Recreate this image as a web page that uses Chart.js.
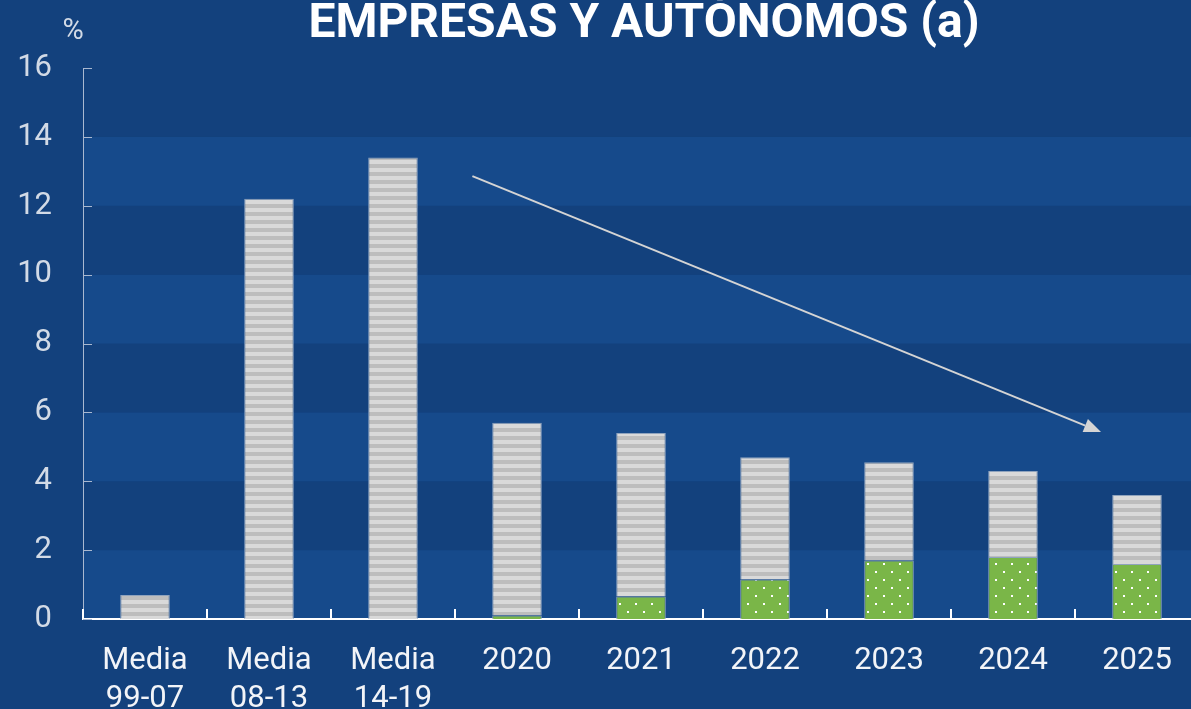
<!DOCTYPE html>
<html>
<head>
<meta charset="utf-8">
<script src="https://cdn.jsdelivr.net/npm/chart.js@4"></script>
<style>
  html, body { margin: 0; padding: 0; background: #13417d; overflow: hidden; }
  #wrap { width: 1200px; height: 709px; position: relative; }
</style>
</head>
<body>
<div id="wrap"><canvas id="chart" width="1200" height="709"></canvas></div>
<script>
// data
const categories = [['Media', '99-07'], ['Media', '08-13'], ['Media', '14-19'], '2020', '2021', '2022', '2023', '2024', '2025'];
const greenValues = [0, 0, 0, 0.1, 0.65, 1.15, 1.7, 1.8, 1.6];
const greyValues = [0.7, 12.2, 13.4, 5.6, 4.75, 3.55, 2.85, 2.5, 2.0];
const yTicks = [0, 2, 4, 6, 8, 10, 12, 14, 16];
const arrowFrom = [2.64, 12.86];   // [category index, value]
const arrowTo = [7.71, 5.43];
const titleText = 'EMPRESAS Y AUTÓNOMOS (a)';

const BG_DARK = '#13417d';
const BG_LIGHT = '#164a8b';
const FONT = 'Roboto, "Noto Sans", sans-serif';

// fill patterns
function stripePattern() {
    const c = document.createElement('canvas');
    c.width = 8; c.height = 8;
    const g = c.getContext('2d');
    g.fillStyle = '#d9d9d9'; g.fillRect(0, 0, 8, 4);
    g.fillStyle = '#bdbdbd'; g.fillRect(0, 4, 8, 4);
    return g.createPattern(c, 'repeat');
}
function dotPattern() {
    const c = document.createElement('canvas');
    c.width = 16; c.height = 16;
    const g = c.getContext('2d');
    g.fillStyle = '#7ab648'; g.fillRect(0, 0, 16, 16);
    g.fillStyle = '#ffffff';
    g.fillRect(3, 3, 2, 2);
    g.fillRect(11, 11, 2, 2);
    return g.createPattern(c, 'repeat');
}

const decor = {
    id: 'decor',
    beforeDraw(chart) {
        const { ctx, chartArea: a, scales: { y } } = chart;
        ctx.save();
        ctx.fillStyle = BG_DARK;
        ctx.fillRect(0, 0, chart.width, chart.height);
        // alternating bands every 2 units
        for (let i = 0; i < yTicks.length - 1; i++) {
            const top = y.getPixelForValue(yTicks[i + 1]);
            const bot = y.getPixelForValue(yTicks[i]);
            ctx.fillStyle = i % 2 === 0 ? BG_LIGHT : BG_DARK;
            ctx.fillRect(a.left, top, a.right - a.left, bot - top);
        }
        ctx.restore();
    },
    afterDraw(chart) {
        const { ctx, chartArea: a, scales: { x, y } } = chart;
        ctx.save();
        // inner tick marks on y axis
        ctx.strokeStyle = '#a9b8d0';
        ctx.lineWidth = 1;
        yTicks.forEach(v => {
            const py = Math.round(y.getPixelForValue(v)) + 0.5;
            ctx.beginPath(); ctx.moveTo(a.left, py); ctx.lineTo(a.left + 9, py); ctx.stroke();
        });
        // category separators on x axis
        ctx.strokeStyle = '#ffffff';
        ctx.lineWidth = 2;
        for (let i = 0; i <= categories.length; i++) {
            const px = Math.round(x.getPixelForValue(i - 0.5));
            ctx.beginPath(); ctx.moveTo(px, a.bottom); ctx.lineTo(px, a.bottom - 10); ctx.stroke();
        }
        // arrow
        const x1 = x.getPixelForValue(arrowFrom[0]), y1 = y.getPixelForValue(arrowFrom[1]);
        const x2 = x.getPixelForValue(arrowTo[0]), y2 = y.getPixelForValue(arrowTo[1]);
        const ang = Math.atan2(y2 - y1, x2 - x1);
        const head = 17;
        ctx.strokeStyle = '#d4d4d4';
        ctx.fillStyle = '#d4d4d4';
        ctx.lineWidth = 2;
        ctx.beginPath();
        ctx.moveTo(x1, y1);
        ctx.lineTo(x2 - head * Math.cos(ang), y2 - head * Math.sin(ang));
        ctx.stroke();
        ctx.beginPath();
        ctx.moveTo(x2, y2);
        ctx.lineTo(x2 - head * Math.cos(ang) + 7 * Math.sin(ang), y2 - head * Math.sin(ang) - 7 * Math.cos(ang));
        ctx.lineTo(x2 - head * Math.cos(ang) - 7 * Math.sin(ang), y2 - head * Math.sin(ang) + 7 * Math.cos(ang));
        ctx.closePath();
        ctx.fill();
        // title and unit
        ctx.fillStyle = '#ffffff';
        ctx.font = 'bold 48px ' + FONT;
        ctx.textAlign = 'center';
        ctx.textBaseline = 'alphabetic';
        ctx.fillText(titleText, 644, 37);
        ctx.fillStyle = '#d2dae6';
        ctx.font = '29px ' + FONT;
        ctx.fillText('%', 73, 39);
        ctx.restore();
    }
};

const ctx = document.getElementById('chart').getContext('2d');
const chart = new Chart(ctx, {
    type: 'bar',
    data: {
        labels: categories,
        datasets: [{
            label: 'green',
            data: greenValues,
            backgroundColor: dotPattern(),
            borderColor: '#8fa3bd',
            borderWidth: 1,
            borderSkipped: 'bottom'
        }, {
            label: 'grey',
            data: greyValues,
            backgroundColor: stripePattern(),
            borderColor: '#8fa3bd',
            borderWidth: 1,
            borderSkipped: 'bottom'
        }]
    },
    options: {
        responsive: false,
        animation: false,
        layout: { padding: { top: 68, right: 1, left: 0, bottom: 0 } },
        plugins: {
            legend: { display: false },
            tooltip: { enabled: false }
        },
        datasets: { bar: { barPercentage: 0.4, categoryPercentage: 1 } },
        scales: {
            x: {
                stacked: true,
                grid: { display: false, drawTicks: false },
                border: { display: true, color: '#ffffff', width: 2 },
                ticks: { color: '#f2f4f8', font: { family: FONT, size: 31, lineHeight: 1.2 }, padding: 24, maxRotation: 0, autoSkip: false },
                afterFit: s => { s.height = 90; }
            },
            y: {
                stacked: true,
                min: 0,
                max: 16,
                afterBuildTicks: s => { s.ticks = yTicks.map(v => ({ value: v })); },
                grid: { display: false, drawTicks: false },
                border: { display: true, color: '#a9b8d0', width: 1 },
                ticks: { color: '#d2dae6', font: { family: FONT, size: 31 }, padding: 31 },
                afterFit: s => { s.width = 83; }
            }
        }
    },
    plugins: [decor]
});
</script>
</body>
</html>
